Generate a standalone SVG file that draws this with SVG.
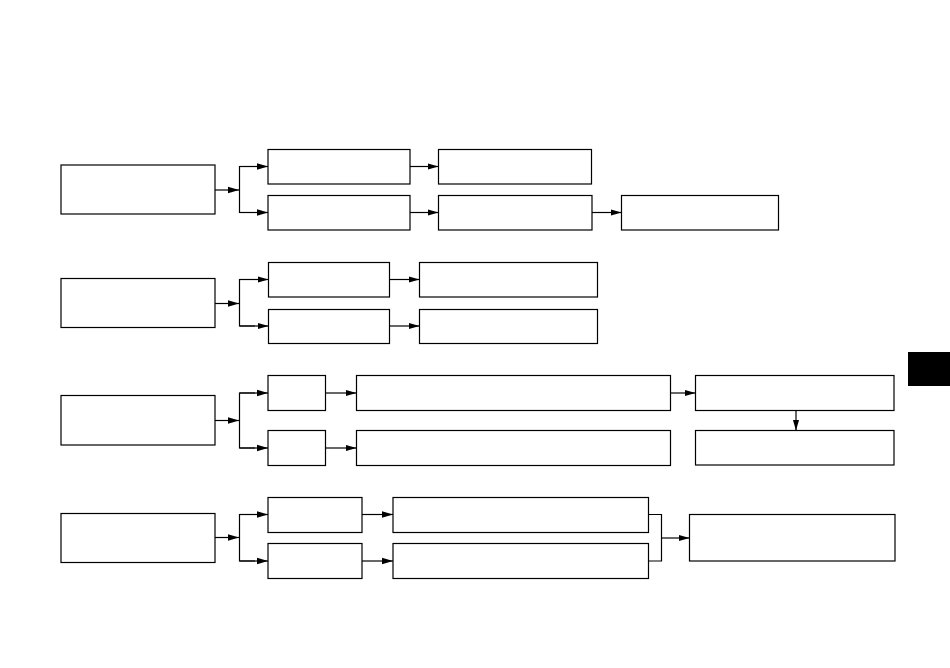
<svg xmlns="http://www.w3.org/2000/svg" width="950" height="668" viewBox="0 0 950 668">
<defs>
<marker id="ah" markerWidth="11" markerHeight="8" refX="11" refY="4" orient="auto" markerUnits="userSpaceOnUse">
<path d="M0,0.8 L11,4 L0,7.2 Z" fill="#000"/>
</marker>
<style>
.b{fill:#fff;stroke:#000;stroke-width:1.2}
.c{fill:none;stroke:#000;stroke-width:1.2}
.a{marker-end:url(#ah)}
</style>
</defs>
<rect width="950" height="668" fill="#fff"/>
<g id="tab"><rect x="908" y="352" width="42" height="34" fill="#000"/></g>
<g id="r1">
<rect id="n1" class="b" x="61" y="165" width="154" height="49"/>
<rect id="n1a" class="b" x="268" y="149.5" width="142" height="34.5"/>
<rect id="n1b" class="b" x="268" y="195.5" width="142" height="34.5"/>
<rect id="n1c" class="b" x="438.5" y="149.5" width="153" height="34.5"/>
<rect id="n1d" class="b" x="438.5" y="195.5" width="153.5" height="34.5"/>
<rect id="n1e" class="b" x="621.5" y="195.5" width="157" height="34.5"/>
</g>
<g id="r2">
<rect id="n2" class="b" x="61" y="278.5" width="154" height="49"/>
<rect id="n2a" class="b" x="268.5" y="262.5" width="121" height="34.5"/>
<rect id="n2b" class="b" x="419.5" y="262.5" width="178" height="34.5"/>
<rect id="n2c" class="b" x="268.5" y="309.5" width="121" height="34"/>
<rect id="n2d" class="b" x="419.5" y="309.5" width="178" height="34"/>
</g>
<g id="r3">
<rect id="n3" class="b" x="61" y="395.5" width="154" height="49.5"/>
<rect id="n3a" class="b" x="268" y="375.5" width="57.5" height="35"/>
<rect id="n3b" class="b" x="268" y="430.5" width="57.5" height="35"/>
<rect id="n3c" class="b" x="356.5" y="375.5" width="314" height="35"/>
<rect id="n3d" class="b" x="356.5" y="430.5" width="314" height="35"/>
<rect id="n3e" class="b" x="695.5" y="375.5" width="198.5" height="35"/>
<rect id="n3f" class="b" x="695.5" y="430.5" width="198.5" height="34.5"/>
</g>
<g id="r4">
<rect id="n4" class="b" x="61" y="513.5" width="154" height="49"/>
<rect id="n4a" class="b" x="268" y="497.5" width="94" height="35"/>
<rect id="n4b" class="b" x="268" y="543.5" width="94" height="35"/>
<rect id="n4c" class="b" x="393" y="497.5" width="255.5" height="35"/>
<rect id="n4d" class="b" x="393" y="543.5" width="255.5" height="35"/>
<rect id="n4e" class="b" x="689.5" y="514.5" width="205.5" height="46.5"/>
</g>
<g id="connectors">
<line class="c a" x1="215" y1="190" x2="239" y2="190"/>
<path class="c" d="M255,166.5 H239.5 V212.5 H255"/>
<line class="c a" x1="239.5" y1="166.5" x2="268" y2="166.5"/>
<line class="c a" x1="239.5" y1="212.5" x2="268" y2="212.5"/>
<line class="c a" x1="410" y1="166.5" x2="438.5" y2="166.5"/>
<line class="c a" x1="410" y1="212.5" x2="438.5" y2="212.5"/>
<line class="c a" x1="592" y1="212.5" x2="621.5" y2="212.5"/>
<line class="c a" x1="215" y1="303.5" x2="239" y2="303.5"/>
<path class="c" d="M255,279.5 H239.5 V326 H255"/>
<line class="c a" x1="239.5" y1="279.5" x2="268.5" y2="279.5"/>
<line class="c a" x1="239.5" y1="326" x2="268.5" y2="326"/>
<line class="c a" x1="389.5" y1="279.5" x2="419.5" y2="279.5"/>
<line class="c a" x1="389.5" y1="326" x2="419.5" y2="326"/>
<line class="c a" x1="215" y1="420.5" x2="239" y2="420.5"/>
<path class="c" d="M255,393 H239.5 V448 H255"/>
<line class="c a" x1="239.5" y1="393" x2="268" y2="393"/>
<line class="c a" x1="239.5" y1="448" x2="268" y2="448"/>
<line class="c a" x1="325.5" y1="393" x2="356.5" y2="393"/>
<line class="c a" x1="325.5" y1="448" x2="356.5" y2="448"/>
<line class="c a" x1="670.5" y1="393" x2="695.5" y2="393"/>
<line class="c a" x1="796" y1="410.5" x2="796" y2="430.5"/>
<line class="c a" x1="215" y1="537.5" x2="239" y2="537.5"/>
<path class="c" d="M255,514.5 H239.5 V561 H255"/>
<line class="c a" x1="239.5" y1="514.5" x2="268" y2="514.5"/>
<line class="c a" x1="239.5" y1="561" x2="268" y2="561"/>
<line class="c a" x1="362" y1="514.5" x2="393" y2="514.5"/>
<line class="c a" x1="362" y1="561" x2="393" y2="561"/>
<path class="c" d="M648.5,514.5 H661.5 V561 H648.5"/>
<line class="c a" x1="661.5" y1="538" x2="689.5" y2="538"/>
</g>
</svg>
